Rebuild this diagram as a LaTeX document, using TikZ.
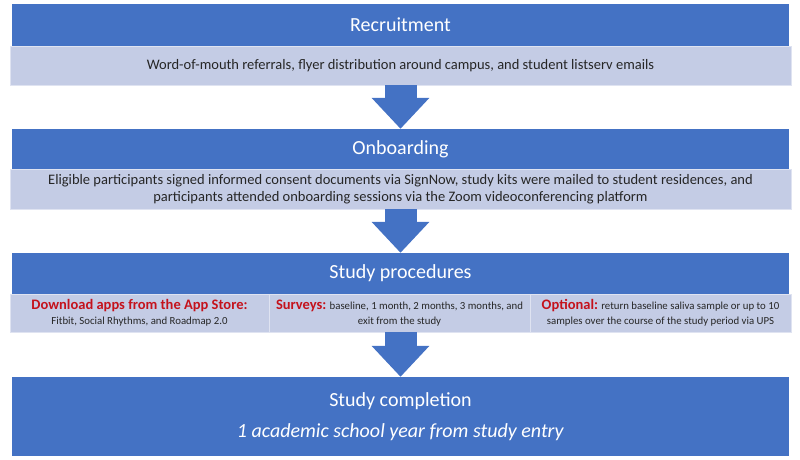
\documentclass[tikz,border=0pt]{standalone}
\usepackage{fontspec}
\setmainfont{Carlito}
\usetikzlibrary{arrows.meta}
\definecolor{hdblue}{RGB}{68,114,196}
\definecolor{bandblue}{RGB}{196,204,229}
\definecolor{redlbl}{RGB}{196,18,28}
\definecolor{bodytxt}{RGB}{38,38,38}
\tikzset{
  header/.style={fill=hdblue, draw=none, text=white, minimum width=777pt, inner sep=0pt,
    font=\fontsize{20}{24}\selectfont},
  band/.style={fill=bandblue, draw=white!45!bandblue, line width=0.8pt, text=bodytxt,
    inner sep=0pt, align=center, font=\fontsize{14.5}{16.5}\selectfont},
  cell/.style={band, font=\fontsize{10.8}{14.5}\selectfont},
  flowarrow/.style={draw=hdblue, line width=32pt,
    -{Triangle[width=56pt,length=31pt]}}
}
\newcommand{\rl}[1]{{\fontsize{14.5}{14.5}\selectfont\bfseries\color{redlbl}#1}}
\begin{document}
\begin{tikzpicture}[x=1pt,y=-1pt]
\useasboundingbox (0,0) rectangle (800,459);
% Recruitment
\node[header, minimum height=42pt] (rhead) at (400.5,25) {Recruitment};
\node[band, minimum width=781pt, minimum height=39pt] (rband) at (400.5,65.5)
  {Word-of-mouth referrals, flyer distribution around campus, and student listserv emails};
% Onboarding
\node[header, minimum height=40pt] (ohead) at (400.5,149) {Onboarding};
\node[band, minimum width=781pt, minimum height=40pt] (oband) at (400.5,189)
  {Eligible participants signed informed consent documents via SignNow, study kits were mailed to student residences, and\\
   participants attended onboarding sessions via the Zoom videoconferencing platform};
% Study procedures
\node[header, minimum height=41pt] (shead) at (400.5,273.5) {Study procedures};
\node[cell, minimum width=259pt, minimum height=38pt] (c1) at (139.5,313)
  {\rl{Download apps from the App Store:}\\Fitbit, Social Rhythms, and Roadmap 2.0};
\node[cell, minimum width=261pt, minimum height=38pt] (c2) at (399.5,313)
  {\rl{Surveys:} baseline, 1 month, 2 months, 3 months, and\\exit from the study};
\node[cell, minimum width=261pt, minimum height=38pt] (c3) at (660.5,313)
  {\rl{Optional:} return baseline saliva sample or up to 10\\samples over the course of the study period via UPS};
% Completion
\node[header, minimum height=79pt, align=center, font=\fontsize{20}{31}\selectfont] (comp) at (400.5,416.5)
  {Study completion\\\textit{1 academic school year from study entry}};
% Arrows
\draw[flowarrow] (rband.south) -- (ohead.north);
\draw[flowarrow] (oband.south) -- (shead.north);
\draw[flowarrow] (c2.south -| comp.north) -- (comp.north);
\end{tikzpicture}
\end{document}
